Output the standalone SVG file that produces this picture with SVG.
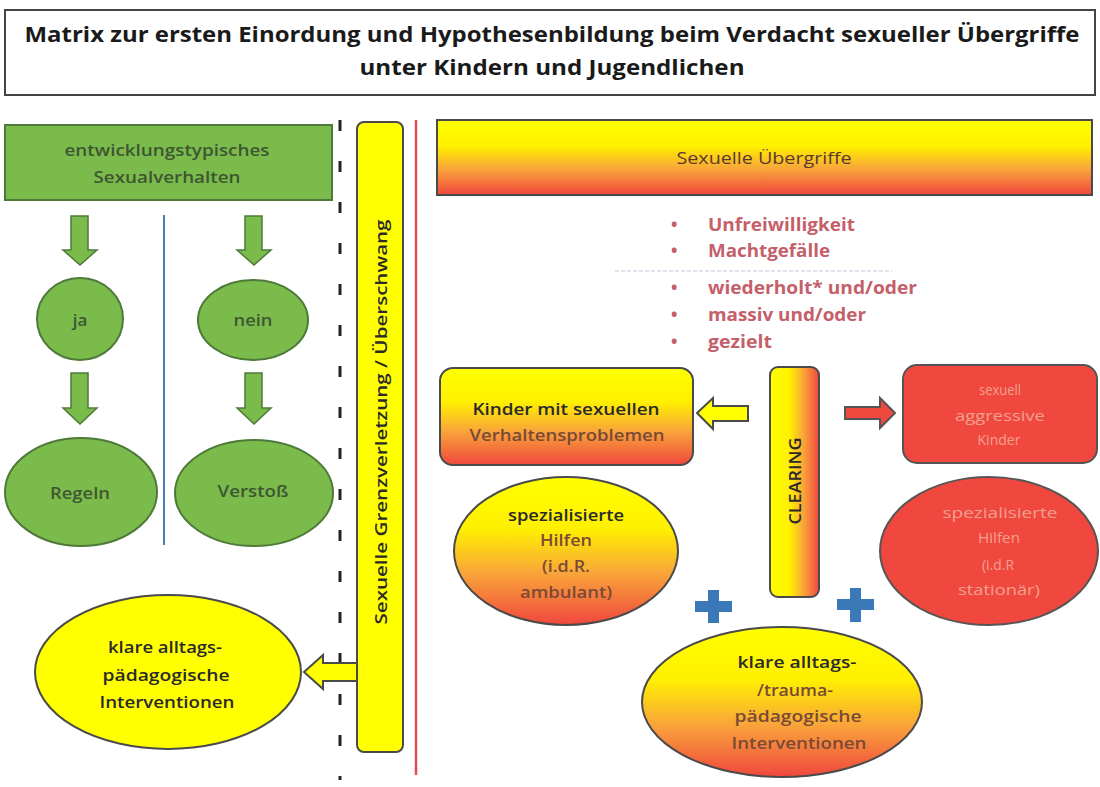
<svg xmlns="http://www.w3.org/2000/svg" width="1100" height="787" viewBox="0 0 1100 787">
<defs>
<linearGradient id="gv" x1="0" y1="0" x2="0" y2="1">
<stop offset="0" stop-color="#ffff00"/>
<stop offset="0.35" stop-color="#fff000"/>
<stop offset="0.65" stop-color="#f9a53a"/>
<stop offset="1" stop-color="#f0473e"/>
</linearGradient>
<linearGradient id="gh" x1="0" y1="0" x2="1" y2="0">
<stop offset="0" stop-color="#ffff00"/>
<stop offset="0.4" stop-color="#fff000"/>
<stop offset="0.7" stop-color="#f9a03a"/>
<stop offset="1" stop-color="#f0473e"/>
</linearGradient>
<style>
text{font-family:'Open Sans','Liberation Sans',sans-serif;text-anchor:middle}
.title{font-size:22px;font-weight:700;fill:#1a1a1a}
.gr{fill:#7bbb4c;stroke:#4d7a38;stroke-width:2}
.gt{font-size:17px;font-weight:600;fill:#3e5632}
.ga{fill:#7bbb4c;stroke:#4d7a38;stroke-width:1.5}
.yel{fill:#ffff00;stroke:#4a4a4a;stroke-width:2}
.grad{fill:url(#gv);stroke:#4a4a4a;stroke-width:2}
.red{fill:#f0483e;stroke:#555;stroke-width:2}
.dk{font-size:16px;font-weight:600;fill:#2a2a2a}
.br{font-size:16px;font-weight:600;fill:#7a4a35}
.pale{font-size:14px;fill:#f2a08e}
.bul{font-size:17px;font-weight:700;fill:#c4606a;text-anchor:start}
.plus{fill:#3a78b8}
</style>
</defs>

<g id="title">
<rect x="5" y="10" width="1090" height="85" fill="#fff" stroke="#444" stroke-width="2"/>
<text class="title" x="552" y="42" textLength="1055" lengthAdjust="spacingAndGlyphs">Matrix zur ersten Einordung und Hypothesenbildung beim Verdacht sexueller Übergriffe</text>
<text class="title" x="552" y="75" textLength="385" lengthAdjust="spacingAndGlyphs">unter Kindern und Jugendlichen</text>
</g>

<g id="entwicklung">
<rect class="gr" x="5" y="125" width="327" height="75"/>
<text class="gt" x="167" y="156" textLength="205" lengthAdjust="spacingAndGlyphs">entwicklungstypisches</text>
<text class="gt" x="167" y="183" textLength="147" lengthAdjust="spacingAndGlyphs">Sexualverhalten</text>
</g>

<g id="ja"><ellipse class="gr" cx="80" cy="319" rx="43" ry="41"/><text class="gt" x="80" y="326">ja</text></g>
<g id="nein"><ellipse class="gr" cx="253" cy="320" rx="55" ry="40"/><text class="gt" x="253" y="326" textLength="39" lengthAdjust="spacingAndGlyphs">nein</text></g>
<g id="regeln"><ellipse class="gr" cx="81" cy="492" rx="76" ry="54"/><text class="gt" x="80" y="499" textLength="60" lengthAdjust="spacingAndGlyphs">Regeln</text></g>
<g id="verstoss"><ellipse class="gr" cx="254" cy="493" rx="79" ry="53"/><text class="gt" x="253" y="497" textLength="71" lengthAdjust="spacingAndGlyphs">Verstoß</text></g>

<g id="grenzverletzung">
<rect class="yel" x="357" y="122" width="46" height="630" rx="7"/>
<text class="dk" font-size="17" transform="translate(387 422) rotate(-90)" x="0" y="0" textLength="405" lengthAdjust="spacingAndGlyphs">Sexuelle Grenzverletzung / Überschwang</text>
</g>

<g id="klare-links">
<ellipse class="yel" cx="168" cy="672" rx="133" ry="77"/>
<text class="dk" x="165" y="653" textLength="114" lengthAdjust="spacingAndGlyphs">klare alltags-</text>
<text class="dk" x="166" y="681" textLength="127" lengthAdjust="spacingAndGlyphs">pädagogische</text>
<text class="dk" x="167" y="708" textLength="135" lengthAdjust="spacingAndGlyphs">Interventionen</text>
</g>

<g id="uebergriffe">
<rect class="grad" x="437" y="120" width="655" height="75"/>
<text x="764" y="164" font-size="16" fill="#5a3a2a" textLength="175" lengthAdjust="spacingAndGlyphs">Sexuelle Übergriffe</text>
</g>

<g id="kriterien">
<text class="bul" x="671" y="231">•</text><text class="bul" x="708" y="231" textLength="147" lengthAdjust="spacingAndGlyphs">Unfreiwilligkeit</text>
<text class="bul" x="671" y="257">•</text><text class="bul" x="708" y="257" textLength="122" lengthAdjust="spacingAndGlyphs">Machtgefälle</text>
<line x1="615" y1="271" x2="892" y2="271" stroke="#d4dae6" stroke-width="1.5" stroke-dasharray="4 2"/>
<text class="bul" x="671" y="294">•</text><text class="bul" x="708" y="294" textLength="209" lengthAdjust="spacingAndGlyphs">wiederholt* und/oder</text>
<text class="bul" x="671" y="321">•</text><text class="bul" x="708" y="321" textLength="158" lengthAdjust="spacingAndGlyphs">massiv und/oder</text>
<text class="bul" x="671" y="348">•</text><text class="bul" x="708" y="348" textLength="64" lengthAdjust="spacingAndGlyphs">gezielt</text>
</g>

<g id="verhaltensprobleme">
<rect class="grad" x="440" y="368" width="253" height="97" rx="13"/>
<text class="dk" x="566" y="415" textLength="187" lengthAdjust="spacingAndGlyphs">Kinder mit sexuellen</text>
<text class="br" x="567" y="441" textLength="195" lengthAdjust="spacingAndGlyphs">Verhaltensproblemen</text>
</g>

<g id="clearing">
<rect x="770" y="367" width="49" height="230" rx="8" fill="url(#gh)" stroke="#4a4a4a" stroke-width="2"/>
<text class="dk" transform="translate(801 481) rotate(-90)" x="0" y="0" textLength="87" lengthAdjust="spacingAndGlyphs">CLEARING</text>
</g>

<g id="aggressiv">
<rect class="red" x="903" y="365" width="194" height="98" rx="14"/>
<text class="pale" x="1000" y="395" textLength="42" lengthAdjust="spacingAndGlyphs">sexuell</text>
<text class="pale" x="1000" y="421" textLength="90" lengthAdjust="spacingAndGlyphs">aggressive</text>
<text class="pale" x="999" y="445" textLength="43" lengthAdjust="spacingAndGlyphs">Kinder</text>
</g>

<g id="hilfen-ambulant">
<ellipse class="grad" cx="566" cy="551" rx="112" ry="74"/>
<text class="dk" x="566" y="521" textLength="116" lengthAdjust="spacingAndGlyphs">spezialisierte</text>
<text class="br" x="566" y="546" textLength="52" lengthAdjust="spacingAndGlyphs">Hilfen</text>
<text class="br" x="566" y="572" textLength="48" lengthAdjust="spacingAndGlyphs">(i.d.R.</text>
<text class="br" x="566" y="598" textLength="92" lengthAdjust="spacingAndGlyphs">ambulant)</text>
</g>

<g id="hilfen-stationaer">
<ellipse class="red" cx="989" cy="551" rx="109" ry="74"/>
<text class="pale" x="1000" y="518" textLength="115" lengthAdjust="spacingAndGlyphs">spezialisierte</text>
<text class="pale" x="999" y="543" textLength="42" lengthAdjust="spacingAndGlyphs">Hilfen</text>
<text class="pale" x="998" y="570" textLength="32" lengthAdjust="spacingAndGlyphs">(i.d.R</text>
<text class="pale" x="999" y="595" textLength="82" lengthAdjust="spacingAndGlyphs">stationär)</text>
</g>

<g id="klare-trauma">
<ellipse class="grad" cx="782" cy="702" rx="140" ry="75"/>
<text class="dk" x="797" y="668" textLength="119" lengthAdjust="spacingAndGlyphs">klare alltags-</text>
<text class="br" x="795" y="696" textLength="76" lengthAdjust="spacingAndGlyphs">/trauma-</text>
<text class="br" x="798" y="722" textLength="127" lengthAdjust="spacingAndGlyphs">pädagogische</text>
<text class="br" x="799" y="749" textLength="135" lengthAdjust="spacingAndGlyphs">Interventionen</text>
</g>

<g id="connectors">
<line x1="340" y1="120" x2="340" y2="780" stroke="#222" stroke-width="3" stroke-dasharray="11 30"/>
<line x1="416" y1="120" x2="416" y2="775" stroke="#e84a55" stroke-width="2.5"/>
<line x1="164" y1="215" x2="164" y2="545" stroke="#4a7ab5" stroke-width="2"/>
<polygon class="ga" points="71,216 88,216 88,250 97,250 80,265 63,250 71,250"/>
<polygon class="ga" points="245,216 262,216 262,250 271,250 254,265 237,250 245,250"/>
<polygon class="ga" points="71,373 88,373 88,408 97,408 80,424 63,408 71,408"/>
<polygon class="ga" points="245,373 262,373 262,408 271,408 254,424 237,408 245,408"/>
<polygon class="yel" points="357,663 323,663 323,655 304,672 323,689 323,681 357,681"/>
<polygon class="yel" points="748,406 713,406 713,398 697,413 713,429 713,421 748,421"/>
<polygon class="red" points="845,407 880,407 880,398 895,413 880,428 880,419 845,419"/>
<path class="plus" d="M708,590 h11 v11 h13 v11 h-13 v11 h-11 v-11 h-13 v-11 h13 z"/>
<path class="plus" d="M850,588 h11 v11 h13 v11 h-13 v12 h-11 v-12 h-13 v-11 h13 z"/>
</g>
</svg>
